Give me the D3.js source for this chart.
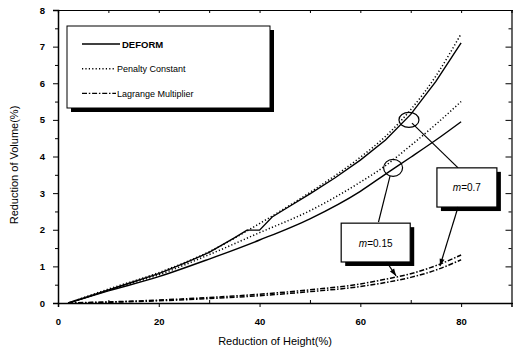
<!DOCTYPE html>
<html>
<head>
<meta charset="utf-8">
<script src="https://cdn.jsdelivr.net/npm/d3@7"></script>
<style>
  body { margin: 0; background: #fff; }
  svg { display: block; font-family: "Liberation Sans", Arial, sans-serif; }
</style>
</head>
<body>
<script>
const w = 513;
const h = 362;

// data (x = reduction of height %, y = reduction of volume %)
const xTicks = [0, 20, 40, 60, 80];
const yTicks = [0, 1, 2, 3, 4, 5, 6, 7, 8];

const deform07X = [2, 5, 10, 15, 20, 25, 30, 35, 37.5, 40, 42.5, 45, 50, 55, 60, 65, 70, 75, 80];
const deform07Y = [0, 0.13, 0.36, 0.58, 0.8, 1.08, 1.38, 1.78, 1.99, 1.99, 2.35, 2.56, 2.98, 3.42, 3.9, 4.45, 5.15, 6.05, 7.1];

const curveX = [2, 10, 20, 30, 40, 50, 60, 65, 70, 75, 80];
const penalty07Y = [0, 0.38, 0.83, 1.4, 2.17, 3.02, 3.98, 4.55, 5.28, 6.2, 7.35];
const deform015Y = [0, 0.33, 0.72, 1.2, 1.72, 2.3, 3.05, 3.52, 3.98, 4.45, 4.95];
const penalty015Y = [0, 0.35, 0.77, 1.32, 1.92, 2.52, 3.3, 3.75, 4.3, 4.88, 5.5];
const lagrange07Y = [0, 0.03, 0.08, 0.15, 0.24, 0.36, 0.52, 0.65, 0.8, 1.02, 1.31];
const lagrange015Y = [0, 0.02, 0.06, 0.12, 0.2, 0.31, 0.45, 0.56, 0.7, 0.9, 1.18];

const legendNames = ['DEFORM', 'Penalty Constant', 'Lagrange Multiplier'];

const x = d3.scaleLinear().domain([0, 90]).range([58, 511.5]);
const y = d3.scaleLinear().domain([0, 8]).range([303, 10]);

const svg = d3.select('body')
  .append('svg')
  .attr('width', w)
  .attr('height', h);

const dash = {
  solid: null,
  dotted: '1.2,2.2',
  dashdot: '5,1.8,1.5,1.8'
};

const smooth = d3.line()
  .x(d => x(d[0]))
  .y(d => y(d[1]))
  .curve(d3.curveMonotoneX);

const straight = d3.line()
  .x(d => x(d[0]))
  .y(d => y(d[1]));

const series = [
  { xs: deform07X, ys: deform07Y, style: 'solid', gen: straight },
  { xs: curveX, ys: penalty07Y, style: 'dotted', gen: smooth },
  { xs: curveX, ys: deform015Y, style: 'solid', gen: smooth },
  { xs: curveX, ys: penalty015Y, style: 'dotted', gen: smooth },
  { xs: curveX, ys: lagrange07Y, style: 'dashdot', gen: smooth },
  { xs: curveX, ys: lagrange015Y, style: 'dashdot', gen: smooth }
];

svg.selectAll('path.curve')
  .data(series)
  .enter()
  .append('path')
  .attr('class', 'curve')
  .attr('d', s => s.gen(s.xs.map((v, i) => [v, s.ys[i]])))
  .attr('fill', 'none')
  .attr('stroke', '#000')
  .attr('stroke-width', s => s.style === 'solid' ? 1.4 : 1.5)
  .attr('stroke-dasharray', s => dash[s.style]);

// axes
const tickFont = g => g.selectAll('text')
  .style('font-size', '9.5px')
  .style('font-weight', 'bold')
  .attr('fill', '#000');

svg.append('g')
  .attr('transform', `translate(0,${y(0)})`)
  .call(d3.axisBottom(x).tickValues(xTicks).tickSize(4).tickPadding(11))
  .call(g => g.select('.domain').attr('stroke-width', 1.5))
  .call(tickFont);
svg.append('g')
  .attr('transform', `translate(0,${y(0)})`)
  .call(d3.axisTop(x).tickValues([10, 30, 50, 70]).tickSize(3).tickFormat(''))
  .call(g => g.select('.domain').remove());

svg.append('g')
  .attr('transform', `translate(${x(0)},0)`)
  .call(d3.axisLeft(y).tickValues(yTicks).tickSize(5).tickPadding(8))
  .call(g => g.select('.domain').attr('stroke-width', 1.5))
  .call(tickFont);
svg.append('g')
  .attr('transform', `translate(${x(0)},0)`)
  .call(d3.axisLeft(y).tickValues(d3.range(0.5, 8, 1)).tickSize(3).tickFormat(''))
  .call(g => g.select('.domain').remove());

svg.append('g')
  .attr('transform', `translate(${x(90)},0)`)
  .call(d3.axisLeft(y).tickValues(yTicks).tickSize(-6).tickFormat(''))
  .call(g => g.selectAll('.tick line').attr('transform', 'scale(-1,1)'))
  .call(g => g.select('.domain').attr('stroke-width', 1.2));
svg.append('g')
  .attr('transform', `translate(${x(90)},0)`)
  .call(d3.axisRight(y).tickValues(d3.range(0.5, 8, 1)).tickSize(-3).tickFormat(''))
  .call(g => g.select('.domain').remove());

svg.append('g')
  .attr('transform', `translate(0,${y(8)})`)
  .call(d3.axisBottom(x).tickValues(d3.range(0, 90, 10)).tickSize(3).tickFormat(''))
  .call(g => g.select('.domain').attr('stroke-width', 1.2));

svg.append('text')
  .attr('x', 275)
  .attr('y', 345)
  .attr('text-anchor', 'middle')
  .style('font-size', '11px')
  .text('Reduction of Height(%)');

svg.append('text')
  .attr('transform', 'translate(18,165) rotate(-90)')
  .attr('text-anchor', 'middle')
  .style('font-size', '11px')
  .text('Reduction of Volume(%)');

// legend
const lg = svg.append('g');
lg.append('rect').attr('x', 71).attr('y', 30).attr('width', 203).attr('height', 82).attr('fill', '#000');
lg.append('rect').attr('x', 67).attr('y', 26).attr('width', 203).attr('height', 82)
  .attr('fill', '#fff').attr('stroke', '#000').attr('stroke-width', 1);

const legendStyles = ['solid', 'dotted', 'dashdot'];
lg.selectAll('line.key')
  .data(legendNames)
  .enter()
  .append('line')
  .attr('x1', 82)
  .attr('x2', (d, i) => i === 0 ? 120 : 116)
  .attr('y1', (d, i) => 44 + i * 24.7)
  .attr('y2', (d, i) => 44 + i * 24.7)
  .attr('stroke', '#000')
  .attr('stroke-width', 1.4)
  .attr('stroke-dasharray', (d, i) => dash[legendStyles[i]]);

lg.selectAll('text.key')
  .data(legendNames)
  .enter()
  .append('text')
  .attr('x', (d, i) => i === 0 ? 122 : 117)
  .attr('y', (d, i) => 47.5 + i * 24.7)
  .style('font-size', (d, i) => i === 0 ? '9.5px' : '9px')
  .style('font-weight', (d, i) => i === 0 ? 'bold' : 'normal')
  .text(d => d);

// callouts (positions in data units)
const callouts = [
  { label: '0.7', cx: 69.65, cy: 5.0, rx: 10, ry: 7.5,
    lead: [[70.25, 4.91], [79.4, 3.69]],
    box: [75.2, 3.69, 87.1, 2.62],
    arrow: [[79.4, 2.62], [75.8, 1.01]] },
  { label: '0.15', cx: 66.5, cy: 3.69, rx: 9.5, ry: 8.5,
    lead: [[65.9, 3.47], [63.6, 2.21]],
    box: [56.2, 2.18, 69.9, 1.12],
    arrow: [[65.2, 1.12], [67.1, 0.74]] }
];

svg.append('defs').append('marker')
  .attr('id', 'head')
  .attr('viewBox', '0 0 10 10')
  .attr('refX', 10).attr('refY', 5)
  .attr('markerWidth', 7).attr('markerHeight', 6)
  .attr('orient', 'auto')
  .append('path')
  .attr('d', 'M0,1.5L10,5L0,8.5Z')
  .attr('fill', '#000');

for (let c of callouts) {
  const g = svg.append('g');
  g.append('ellipse')
    .attr('cx', x(c.cx)).attr('cy', y(c.cy))
    .attr('rx', c.rx).attr('ry', c.ry)
    .attr('fill', 'none').attr('stroke', '#000').attr('stroke-width', 1.2);
  g.append('line')
    .attr('x1', x(c.lead[0][0])).attr('y1', y(c.lead[0][1]))
    .attr('x2', x(c.lead[1][0])).attr('y2', y(c.lead[1][1]))
    .attr('stroke', '#000').attr('stroke-width', 1.2);
  const bx = x(c.box[0]), by = y(c.box[1]);
  const bw = x(c.box[2]) - bx, bh = y(c.box[3]) - by;
  g.append('rect').attr('x', bx + 4).attr('y', by + 4).attr('width', bw).attr('height', bh).attr('fill', '#000');
  g.append('rect').attr('x', bx).attr('y', by).attr('width', bw).attr('height', bh)
    .attr('fill', '#fff').attr('stroke', '#000').attr('stroke-width', 1.2);
  const t = g.append('text')
    .attr('x', bx + bw / 2)
    .attr('y', by + bh / 2 + 4)
    .attr('text-anchor', 'middle')
    .style('font-size', '10px');
  t.append('tspan').style('font-style', 'italic').text('m');
  t.append('tspan').text('=' + c.label);
  g.append('line')
    .attr('x1', x(c.arrow[0][0])).attr('y1', y(c.arrow[0][1]))
    .attr('x2', x(c.arrow[1][0])).attr('y2', y(c.arrow[1][1]))
    .attr('stroke', '#000').attr('stroke-width', 1.2)
    .attr('marker-end', 'url(#head)');
}
</script>
</body>
</html>
